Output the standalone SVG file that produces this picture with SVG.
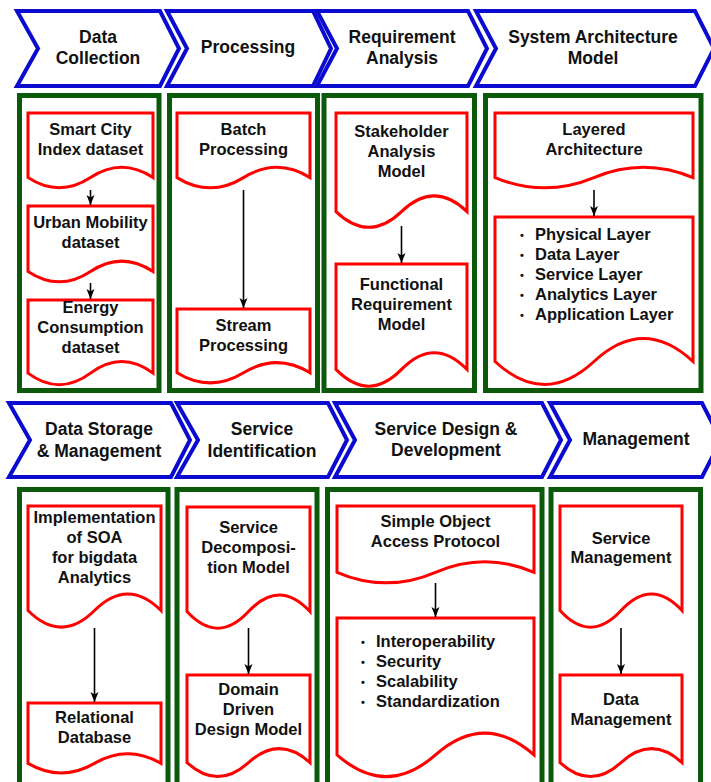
<svg xmlns="http://www.w3.org/2000/svg" width="711" height="782" viewBox="0 0 711 782">
<style>
.chev{fill:#fff;stroke:#0a0ad0;stroke-width:4;stroke-linejoin:miter}
.box{fill:#fff;stroke:#0b5a0b;stroke-width:5}
.doc{fill:#fff;stroke:#ff0000;stroke-width:3}
.t{font-family:"Liberation Sans",Arial,sans-serif;font-weight:bold;font-size:16.5px;fill:#111;text-anchor:middle}
.h{font-size:17.5px}
.l{text-anchor:start}
.b{font-size:11px;text-anchor:start}
.arr{stroke:#000;stroke-width:1.6;fill:none}
</style>
<defs>
<marker id="ah" markerUnits="userSpaceOnUse" markerWidth="12" markerHeight="10" refX="10" refY="4" orient="auto">
<path d="M0,0 L10,4 L0,8 L2.5,4 Z" fill="#000"/>
</marker>
</defs>
<rect width="711" height="782" fill="#fff"/>

<g id="stage-data-collection">
<path class="chev" d="M17,11 H160 L179,48.5 L160,86 H17 L38,48.5 Z"/>
<text class="t h" x="98" y="43">Data</text><text class="t h" x="98" y="64">Collection</text>
</g>
<g id="stage-processing">
<path class="chev" d="M167,11 H313 L331,48.5 L313,86 H167 L187,48.5 Z"/>
<text class="t h" x="248" y="53">Processing</text>
</g>
<g id="stage-requirement">
<path class="chev" d="M317,11 H468 L487,48.5 L468,86 H317 L337,48.5 Z"/>
<text class="t h" x="402" y="43">Requirement</text><text class="t h" x="402" y="64">Analysis</text>
</g>
<g id="stage-architecture">
<path class="chev" d="M476,11 H695 L714,48.5 L695,86 H476 L496,48.5 Z"/>
<text class="t h" x="593" y="43">System Architecture</text><text class="t h" x="593" y="64">Model</text>
</g>
<g id="stage-storage">
<path class="chev" d="M9,403 H171 L190,440 L171,477 H9 L30,440 Z"/>
<text class="t h" x="99" y="435">Data Storage</text><text class="t h" x="99" y="457">&amp; Management</text>
</g>
<g id="stage-service-id">
<path class="chev" d="M177,403 H328 L347,440 L328,477 H177 L198,440 Z"/>
<text class="t h" x="262" y="435">Service</text><text class="t h" x="262" y="457">Identification</text>
</g>
<g id="stage-service-design">
<path class="chev" d="M335,403 H542 L561,440 L542,477 H335 L355,440 Z"/>
<text class="t h" x="446" y="435">Service Design &amp;</text><text class="t h" x="446" y="456">Development</text>
</g>
<g id="stage-management">
<path class="chev" d="M550,403 H702 L721,440 L702,477 H550 L570,440 Z"/>
<text class="t h" x="636" y="445">Management</text>
</g>

<g id="col-data-collection"><rect class="box" x="19.5" y="95.5" width="139.5" height="295"/></g>
<g id="col-processing"><rect class="box" x="169.5" y="95.5" width="148" height="295"/></g>
<g id="col-requirement"><rect class="box" x="324" y="95.5" width="150.5" height="295"/></g>
<g id="col-architecture"><rect class="box" x="485.5" y="95.5" width="215.5" height="295"/></g>
<g id="col-storage"><rect class="box" x="19.5" y="489.5" width="148.5" height="320"/></g>
<g id="col-service-id"><rect class="box" x="177" y="489.5" width="140" height="320"/></g>
<g id="col-service-design"><rect class="box" x="327.5" y="489.5" width="214.5" height="320"/></g>
<g id="col-management"><rect class="box" x="551" y="489.5" width="149.5" height="320"/></g>

<g id="smart-city">
<path class="doc" d="M28,113 H153 V177.6 Q121.75,157.1 90.5,177.6 Q59.25,198.1 28,177.6 Z"/>
<text class="t" x="90.5" y="135">Smart City</text><text class="t" x="90.5" y="155">Index dataset</text>
</g>
<g id="urban-mobility">
<path class="doc" d="M28,206 H153 V271.5 Q121.75,250.7 90.5,271.5 Q59.25,292.2 28,271.5 Z"/>
<text class="t" x="90.5" y="228">Urban Mobility</text><text class="t" x="90.5" y="248">dataset</text>
</g>
<g id="energy">
<path class="doc" d="M28,300 H153 V373.1 Q121.75,349.9 90.5,373.1 Q59.25,396.3 28,373.1 Z"/>
<text class="t" x="90.5" y="313">Energy</text><text class="t" x="90.5" y="333">Consumption</text><text class="t" x="90.5" y="353">dataset</text>
</g>
<g id="batch">
<path class="doc" d="M177,113 H310 V177.6 Q276.75,157.1 243.5,177.6 Q210.25,198.1 177,177.6 Z"/>
<text class="t" x="243.5" y="135">Batch</text><text class="t" x="243.5" y="155">Processing</text>
</g>
<g id="stream">
<path class="doc" d="M177,309 H310 V372.75 Q276.75,352.5 243.5,372.75 Q210.25,393 177,372.75 Z"/>
<text class="t" x="243.5" y="331">Stream</text><text class="t" x="243.5" y="351">Processing</text>
</g>
<g id="stakeholder">
<path class="doc" d="M336,113 H467 V211.6 Q434.25,180.3 401.5,211.6 Q368.75,242.9 336,211.6 Z"/>
<text class="t" x="401.5" y="137">Stakeholder</text><text class="t" x="401.5" y="157">Analysis</text><text class="t" x="401.5" y="177">Model</text>
</g>
<g id="functional">
<path class="doc" d="M336,264 H467 V369.4 Q434.25,335.9 401.5,369.4 Q368.75,402.9 336,369.4 Z"/>
<text class="t" x="401.5" y="290">Functional</text><text class="t" x="401.5" y="310">Requirement</text><text class="t" x="401.5" y="330">Model</text>
</g>
<g id="layered">
<path class="doc" d="M495,113 H693 V177.6 Q643.5,157.1 594,177.6 Q544.5,198.1 495,177.6 Z"/>
<text class="t" x="594" y="135">Layered</text><text class="t" x="594" y="155">Architecture</text>
</g>
<g id="layers">
<path class="doc" d="M495,217 H693 V361.5 Q643.5,315.6 594,361.5 Q544.5,407.4 495,361.5 Z"/>
<text class="t b" x="520" y="239">•</text><text class="t l" x="535" y="240">Physical Layer</text>
<text class="t b" x="520" y="259">•</text><text class="t l" x="535" y="260">Data Layer</text>
<text class="t b" x="520" y="279">•</text><text class="t l" x="535" y="280">Service Layer</text>
<text class="t b" x="520" y="299">•</text><text class="t l" x="535" y="300">Analytics Layer</text>
<text class="t b" x="520" y="319">•</text><text class="t l" x="535" y="320">Application Layer</text>
</g>
<g id="soa">
<path class="doc" d="M28,506 H161 V610.55 Q127.75,577.3 94.5,610.55 Q61.25,643.8 28,610.55 Z"/>
<text class="t" x="94.5" y="523">Implementation</text><text class="t" x="94.5" y="543">of SOA</text><text class="t" x="94.5" y="563">for bigdata</text><text class="t" x="94.5" y="583">Analytics</text>
</g>
<g id="relational">
<path class="doc" d="M28,703 H161 V763.35 Q127.75,744.2 94.5,763.35 Q61.25,782.5 28,763.35 Z"/>
<text class="t" x="94.5" y="723">Relational</text><text class="t" x="94.5" y="743">Database</text>
</g>
<g id="decomposition">
<path class="doc" d="M187,507 H310 V611.55 Q279.25,578.3 248.5,611.55 Q217.75,644.8 187,611.55 Z"/>
<text class="t" x="248.5" y="533">Service</text><text class="t" x="248.5" y="553">Decomposi-</text><text class="t" x="248.5" y="573">tion Model</text>
</g>
<g id="domain">
<path class="doc" d="M187,675 H310 V762.55 Q279.25,734.7 248.5,762.55 Q217.75,790.4 187,762.55 Z"/>
<text class="t" x="248.5" y="695">Domain</text><text class="t" x="248.5" y="715">Driven</text><text class="t" x="248.5" y="735">Design Model</text>
</g>
<g id="soap">
<path class="doc" d="M337,506 H534 V572.3 Q484.75,551.2 435.5,572.3 Q386.25,593.4 337,572.3 Z"/>
<text class="t" x="435.5" y="527">Simple Object</text><text class="t" x="435.5" y="547">Access Protocol</text>
</g>
<g id="qualities">
<path class="doc" d="M337,618 H534 V754.85 Q484.75,711.4 435.5,754.85 Q386.25,798.3 337,754.85 Z"/>
<text class="t b" x="361" y="646">•</text><text class="t l" x="376" y="647">Interoperability</text>
<text class="t b" x="361" y="666">•</text><text class="t l" x="376" y="667">Security</text>
<text class="t b" x="361" y="686">•</text><text class="t l" x="376" y="687">Scalability</text>
<text class="t b" x="361" y="706">•</text><text class="t l" x="376" y="707">Standardization</text>
</g>
<g id="service-mgmt">
<path class="doc" d="M560,506 H682 V610.55 Q651.5,577.3 621,610.55 Q590.5,643.8 560,610.55 Z"/>
<text class="t" x="621" y="544">Service</text><text class="t" x="621" y="563">Management</text>
</g>
<g id="data-mgmt">
<path class="doc" d="M560,675 H682 V762.55 Q651.5,734.7 621,762.55 Q590.5,790.4 560,762.55 Z"/>
<text class="t" x="621" y="705">Data</text><text class="t" x="621" y="725">Management</text>
</g>

<g id="connectors">
<line class="arr" x1="90.5" y1="190" x2="90.5" y2="205" marker-end="url(#ah)"/>
<line class="arr" x1="90.5" y1="283" x2="90.5" y2="299" marker-end="url(#ah)"/>
<line class="arr" x1="243.5" y1="190" x2="243.5" y2="308" marker-end="url(#ah)"/>
<line class="arr" x1="401.5" y1="226" x2="401.5" y2="263" marker-end="url(#ah)"/>
<line class="arr" x1="594" y1="190" x2="594" y2="216" marker-end="url(#ah)"/>
<line class="arr" x1="94.5" y1="628" x2="94.5" y2="702" marker-end="url(#ah)"/>
<line class="arr" x1="248.5" y1="628" x2="248.5" y2="674" marker-end="url(#ah)"/>
<line class="arr" x1="435.5" y1="583" x2="435.5" y2="617" marker-end="url(#ah)"/>
<line class="arr" x1="621" y1="628" x2="621" y2="674" marker-end="url(#ah)"/>
</g>
</svg>
